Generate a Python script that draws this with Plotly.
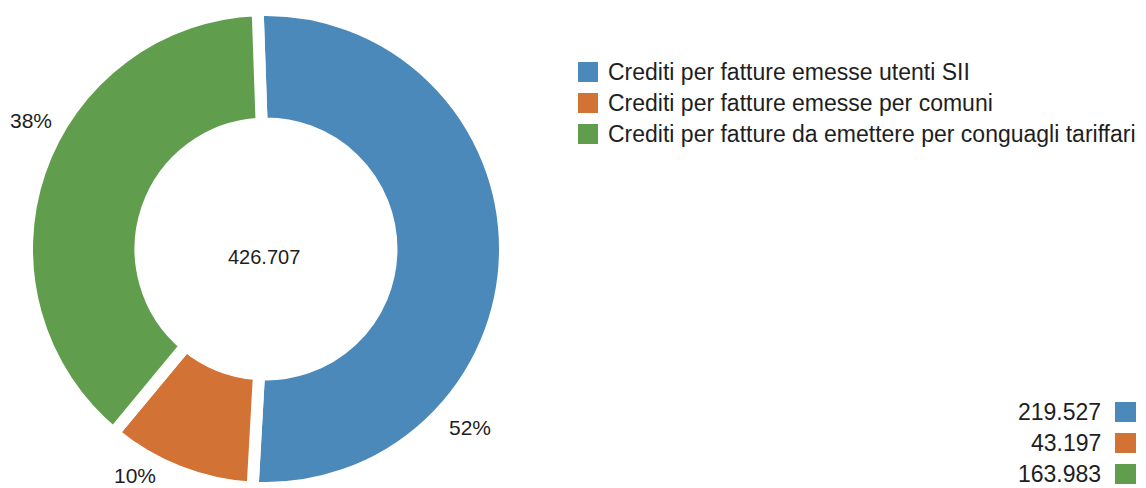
import plotly.graph_objects as go

# ---- data ----
categories = [
    "Crediti per fatture emesse utenti SII",
    "Crediti per fatture emesse per comuni",
    "Crediti per fatture da emettere per conguagli tariffari",
]
values = [219527, 43197, 163983]
colors = ["#4b89ba", "#d27234", "#609e4d"]

W, H = 1146, 488
FONT = "Liberation Sans, Arial, sans-serif"
TXT = "#1e1e1e"


def px(x):
    return x / W


def py(y):
    return 1 - y / H


def fmt_it(v):
    return f"{v:,}".replace(",", ".")


total = sum(values)
# percentages rounded with the largest-remainder method (sum to 100)
raw = [v / total * 100 for v in values]
pcts = [int(r) for r in raw]
order = sorted(range(len(raw)), key=lambda i: raw[i] - pcts[i], reverse=True)
for i in order[: 100 - sum(pcts)]:
    pcts[i] += 1

# pie geometry (pixels)
cx, cy, R = 266, 249, 239

fig = go.Figure(
    go.Pie(
        labels=categories,
        values=values,
        sort=False,
        direction="clockwise",
        rotation=-2,
        hole=0.525,
        marker=dict(colors=colors, line=dict(color="white", width=12)),
        textinfo="none",
        hoverinfo="label+value+percent",
        showlegend=False,
        domain=dict(x=[px(cx - R), px(cx + R)], y=[py(cy + R), py(cy - R)]),
    )
)

annotations = []
shapes = []

# center total
annotations.append(dict(x=px(264), y=py(257), xref="paper", yref="paper",
                        text=fmt_it(total), showarrow=False,
                        font=dict(family=FONT, size=20, color=TXT),
                        xanchor="center", yanchor="middle"))

# percentage labels
label_pos = [(470, 427), (135, 475), (31, 120)]
for (lx, ly), p in zip(label_pos, pcts):
    annotations.append(dict(x=px(lx), y=py(ly), xref="paper", yref="paper",
                            text=f"{p}%", showarrow=False,
                            font=dict(family=FONT, size=21, color=TXT),
                            xanchor="center", yanchor="middle", borderpad=0))

# top-right legend
for i, (cat, col) in enumerate(zip(categories, colors)):
    yc = 72 + i * 31
    shapes.append(dict(type="rect", xref="paper", yref="paper",
                       x0=px(578), x1=px(598), y0=py(yc + 10), y1=py(yc - 10),
                       fillcolor=col, line=dict(width=0)))
    annotations.append(dict(x=px(606), y=py(yc), xref="paper", yref="paper",
                            text=cat, showarrow=False,
                            font=dict(family=FONT, size=23, color=TXT),
                            xanchor="left", yanchor="middle"))

# bottom-right value legend
for i, (v, col) in enumerate(zip(values, colors)):
    yc = 412 + i * 31
    shapes.append(dict(type="rect", xref="paper", yref="paper",
                       x0=px(1115), x1=px(1136), y0=py(yc + 10), y1=py(yc - 10),
                       fillcolor=col, line=dict(width=0)))
    annotations.append(dict(x=px(1103), y=py(yc), xref="paper", yref="paper",
                            text=fmt_it(v), showarrow=False,
                            font=dict(family=FONT, size=23, color=TXT),
                            xanchor="right", yanchor="middle"))

fig.update_layout(
    width=W, height=H, autosize=False,
    margin=dict(l=0, r=0, t=0, b=0),
    paper_bgcolor="white", plot_bgcolor="white",
    annotations=annotations, shapes=shapes,
)

fig.write_html("out.html")
